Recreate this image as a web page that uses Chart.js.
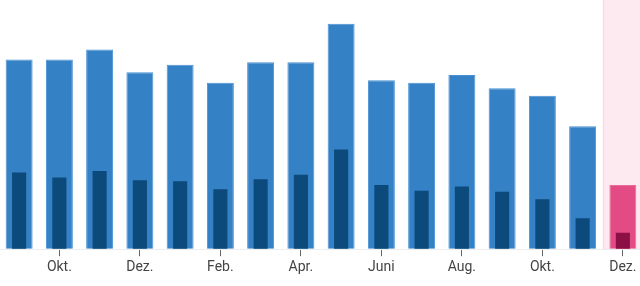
<!DOCTYPE html>
<html>
<head>
<meta charset="utf-8">
<script src="https://cdn.jsdelivr.net/npm/chart.js@4/dist/chart.umd.min.js"></script>
<style>
  html, body { margin: 0; padding: 0; background: #fff; overflow: hidden; }
  #wrap { position: absolute; left: -1px; top: 0; width: 644px; height: 286px; }
</style>
</head>
<body>
<div id="wrap"><canvas id="bar-chart" width="644" height="286"></canvas></div>
<script>
const months = ['Sep.', 'Okt.', 'Nov.', 'Dez.', 'Jan.', 'Feb.', 'März', 'Apr.', 'Mai', 'Juni', 'Juli', 'Aug.', 'Sep.', 'Okt.', 'Nov.', 'Dez.'];
const totalValues = [148.6, 148.6, 156.5, 138.6, 144.6, 130.5, 146.5, 146.5, 176.6, 132.5, 130.5, 136.5, 126.2, 120.2, 96.3, 50.4];
const partValues = [60.1, 56.1, 61.2, 54.1, 53.3, 47.0, 54.9, 58.3, 78.2, 50.4, 45.9, 49.1, 45.1, 39.1, 24.2, 12.8];
const currentIndex = 15;

function main(){
    const canvas = document.querySelector('#bar-chart');

    // light pink band behind the current month
    const highlightBand = {
        id: 'highlightBand',
        beforeDatasetsDraw(chart){
            const { ctx, chartArea, scales } = chart;
            const x = scales.x;
            const half = (x.getPixelForValue(1) - x.getPixelForValue(0)) / 2;
            const left = x.getPixelForValue(currentIndex) - half;
            ctx.save();
            ctx.fillStyle = 'rgba(232, 80, 130, 0.12)';
            ctx.fillRect(left, 0, chartArea.right - left, chartArea.bottom);
            ctx.fillStyle = 'rgba(232, 80, 130, 0.10)';
            ctx.fillRect(left, 0, 1.5, chartArea.bottom);
            ctx.restore();
        }
    };

    function pick(normal, current){
        return months.map((m, i) => i === currentIndex ? current : normal);
    }

    new Chart(canvas.getContext('2d'), {
        type: 'bar',
        data: {
            labels: months,
            datasets: [
                {
                    label: 'Teil',
                    data: partValues,
                    backgroundColor: pick('#0b4a7a', '#8c0f46'),
                    borderWidth: 0,
                    barPercentage: 0.35,
                    categoryPercentage: 1,
                    grouped: false,
                    order: 0
                },
                {
                    label: 'Gesamt',
                    data: totalValues,
                    backgroundColor: pick('#3581c5', '#e34b84'),
                    borderColor: pick('#4a92d3', '#ec6b98'),
                    borderWidth: 1,
                    barPercentage: 0.67,
                    categoryPercentage: 1,
                    grouped: false,
                    order: 1
                }
            ]
        },
        options: {
            responsive: false,
            animation: false,
            layout: { padding: { left: 0, right: 0, top: 0, bottom: 7 } },
            plugins: {
                legend: { display: false },
                tooltip: { enabled: false }
            },
            scales: {
                x: {
                    grid: {
                        offset: false,
                        drawOnChartArea: false,
                        tickLength: 7,
                        tickColor: ctx => ctx.index % 2 === 1 ? '#666' : 'transparent'
                    },
                    border: { color: '#eeeeee' },
                    ticks: {
                        autoSkip: false,
                        maxRotation: 0,
                        padding: 3,
                        color: '#444',
                        font: { family: 'Roboto', size: 14 },
                        callback: (value, index) => index % 2 === 1 ? months[index] : ''
                    }
                },
                y: {
                    display: true,
                    min: 0,
                    max: 195.3,
                    ticks: { display: false, stepSize: 100 },
                    border: { display: false },
                    grid: {
                        drawTicks: false,
                        color: ctx => ctx.tick && ctx.tick.value === 100 ? '#f2f2f2' : 'transparent'
                    }
                }
            }
        },
        plugins: [highlightBand]
    });
}

main()
</script>
</body>
</html>
